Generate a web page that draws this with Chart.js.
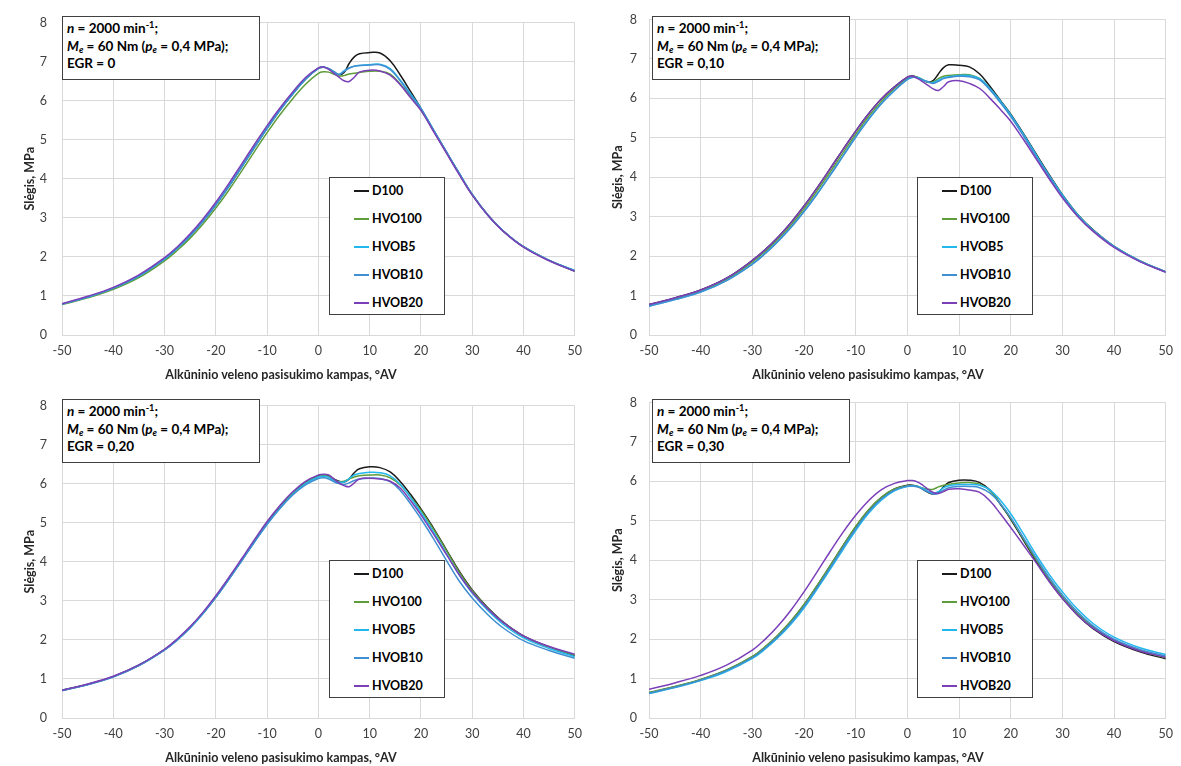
<!DOCTYPE html>
<html><head><meta charset="utf-8">
<script src="https://cdn.jsdelivr.net/npm/chart.js@4.4.1/dist/chart.umd.min.js"></script>
<style>
html,body{margin:0;padding:0;background:#fff;}
body{width:1181px;height:766px;position:relative;overflow:hidden;font-family:Lato,"Liberation Sans",sans-serif;}
.panel{position:absolute;}
.panel canvas{position:absolute;left:0;top:0;}
.note{position:absolute;left:62px;top:16px;width:188px;height:57px;border:1.5px solid #404040;background:#fff;
 font-weight:bold;font-size:13.5px;line-height:17.5px;padding:3px 4px 2px 4px;color:#000;white-space:nowrap;}
.note sup,.note sub{font-size:0.68em;line-height:0;}
.note sub{vertical-align:-0.25em;}
.leg{position:absolute;top:177px;width:114px;height:136px;border:1.5px solid #404040;background:#fff;}
.leg .it{position:absolute;left:24px;height:16px;font-weight:bold;font-size:12.5px;line-height:16px;color:#000;white-space:nowrap;}
.leg .ln{position:absolute;left:0;top:7px;width:15px;height:2px;}
.leg .tx{position:absolute;left:18px;top:0;}
.xt{position:absolute;top:367px;width:300px;text-align:center;font-weight:bold;font-size:12.5px;line-height:16px;color:#262626;white-space:nowrap;}
</style>
</head><body>
<script>
// crank angle, °AV
const ANGLE = [-50,-45,-40,-35,-30,-27.5,-25,-22.5,-20,-17.5,-15,-12.5,-10,-7.5,-5,-2.5,0,1,2,3,4,5,6,7,8,10,12,14,16,18,20,22.5,25,27.5,30,33,36,40,45,50];
const SERIES = ['D100','HVO100','HVOB5','HVOB10','HVOB20'];
const EGR_LABELS = ['0','0,10','0,20','0,30'];
const X_TICKS = [-50,-40,-30,-20,-10,0,10,20,30,40,50];
const Y_TICKS = [0,1,2,3,4,5,6,7,8];
const X_TITLE = 'Alkūninio veleno pasisukimo kampas, °AV';
const Y_TITLE = 'Slėgis, MPa';

// EGR = 0  (pressure, MPa)
const D100_EGR0   = [.79,.97,1.2,1.51,1.945,2.22,2.54,2.91,3.33,3.795,4.29,4.795,5.29,5.755,6.17,6.55,6.825,6.855,6.82,6.74,6.66,6.72,6.95,7.12,7.2,7.23,7.22,7.02,6.65,6.23,5.8,5.24,4.68,4.13,3.6,3.08,2.67,2.26,1.91,1.64];
const HVO100_EGR0 = [.78,.95,1.17,1.47,1.9,2.17,2.48,2.84,3.25,3.7,4.19,4.69,5.18,5.64,6.05,6.42,6.7,6.74,6.73,6.68,6.63,6.64,6.68,6.7,6.72,6.75,6.75,6.68,6.42,6.1,5.76,5.22,4.67,4.12,3.59,3.08,2.67,2.26,1.91,1.64];
const HVOB5_EGR0  = [.79,.97,1.2,1.51,1.945,2.22,2.54,2.91,3.33,3.795,4.29,4.795,5.29,5.755,6.17,6.55,6.825,6.855,6.82,6.74,6.67,6.76,6.84,6.88,6.9,6.92,6.93,6.82,6.52,6.17,5.8,5.24,4.68,4.13,3.6,3.08,2.67,2.26,1.91,1.65];
const HVOB10_EGR0 = [.79,.97,1.2,1.52,1.955,2.23,2.55,2.92,3.34,3.805,4.3,4.805,5.3,5.765,6.18,6.56,6.83,6.86,6.82,6.74,6.67,6.75,6.83,6.88,6.9,6.91,6.92,6.8,6.5,6.14,5.79,5.23,4.68,4.13,3.6,3.08,2.67,2.26,1.91,1.65];
const HVOB20_EGR0 = [.8,.99,1.22,1.54,1.98,2.26,2.59,2.97,3.4,3.87,4.37,4.87,5.36,5.81,6.22,6.59,6.84,6.86,6.8,6.7,6.6,6.51,6.49,6.6,6.73,6.78,6.76,6.65,6.4,6.07,5.75,5.2,4.65,4.1,3.58,3.07,2.66,2.25,1.9,1.63];
// EGR = 0,10
const D100_EGR10   = [.77,.94,1.14,1.44,1.89,2.165,2.485,2.855,3.27,3.725,4.205,4.695,5.17,5.61,5.99,6.29,6.54,6.57,6.53,6.47,6.41,6.45,6.62,6.78,6.85,6.84,6.8,6.62,6.3,5.95,5.6,5.1,4.57,4.05,3.56,3.05,2.66,2.25,1.88,1.6];
const HVO100_EGR10 = [.75,.92,1.12,1.41,1.85,2.12,2.43,2.79,3.2,3.65,4.12,4.61,5.09,5.54,5.93,6.25,6.51,6.55,6.53,6.47,6.41,6.42,6.5,6.56,6.58,6.6,6.6,6.5,6.24,5.92,5.57,5.07,4.54,4.02,3.54,3.04,2.65,2.25,1.88,1.6];
const HVOB5_EGR10  = [.73,.9,1.09,1.38,1.8,2.07,2.38,2.73,3.13,3.57,4.04,4.53,5.02,5.47,5.87,6.2,6.48,6.54,6.53,6.47,6.42,6.4,6.46,6.52,6.55,6.58,6.58,6.5,6.25,5.93,5.58,5.08,4.55,4.03,3.55,3.04,2.65,2.25,1.88,1.6];
const HVOB10_EGR10 = [.73,.9,1.09,1.38,1.8,2.07,2.38,2.73,3.13,3.57,4.04,4.53,5.02,5.47,5.87,6.2,6.48,6.53,6.52,6.46,6.42,6.38,6.43,6.5,6.53,6.56,6.55,6.47,6.21,5.89,5.54,5.04,4.51,4.0,3.52,3.02,2.64,2.24,1.87,1.6];
const HVOB20_EGR10 = [.77,.94,1.14,1.44,1.89,2.165,2.485,2.855,3.27,3.725,4.205,4.695,5.17,5.61,5.99,6.29,6.54,6.56,6.5,6.42,6.33,6.24,6.2,6.3,6.42,6.45,6.38,6.25,6.0,5.72,5.42,4.95,4.45,3.95,3.48,3.0,2.62,2.22,1.86,1.59];
// EGR = 0,20
const D100_EGR20   = [.71,.86,1.06,1.35,1.75,2.01,2.32,2.685,3.1,3.555,4.035,4.52,4.985,5.395,5.755,6.03,6.205,6.22,6.2,6.12,6.06,6.04,6.12,6.28,6.38,6.43,6.41,6.3,6.05,5.72,5.35,4.85,4.3,3.75,3.28,2.83,2.46,2.1,1.82,1.6];
const HVO100_EGR20 = [.71,.86,1.06,1.35,1.75,2.01,2.32,2.68,3.09,3.545,4.025,4.51,4.975,5.385,5.745,6.02,6.19,6.21,6.19,6.1,6.05,6.06,6.12,6.17,6.2,6.22,6.22,6.15,5.96,5.66,5.32,4.82,4.28,3.73,3.26,2.82,2.45,2.09,1.82,1.61];
const HVOB5_EGR20  = [.71,.86,1.06,1.35,1.75,2.0,2.31,2.675,3.09,3.545,4.02,4.5,4.96,5.37,5.73,6.0,6.17,6.19,6.16,6.08,6.04,6.04,6.13,6.22,6.26,6.29,6.28,6.2,5.98,5.64,5.26,4.75,4.2,3.66,3.2,2.76,2.4,2.05,1.78,1.57];
const HVOB10_EGR20 = [.7,.85,1.05,1.34,1.74,2.0,2.31,2.675,3.09,3.545,4.02,4.5,4.96,5.36,5.71,5.97,6.13,6.15,6.12,6.05,6.0,5.98,6.02,6.08,6.12,6.14,6.13,6.05,5.82,5.48,5.1,4.58,4.03,3.5,3.07,2.65,2.31,1.98,1.73,1.53];
const HVOB20_EGR20 = [.71,.87,1.07,1.36,1.76,2.03,2.34,2.71,3.13,3.59,4.07,4.56,5.03,5.44,5.79,6.06,6.22,6.24,6.22,6.12,6.02,5.95,5.92,6.02,6.12,6.14,6.12,6.06,5.88,5.56,5.2,4.7,4.18,3.66,3.22,2.8,2.45,2.1,1.83,1.63];
// EGR = 0,30
const D100_EGR30   = [.64,.79,.97,1.21,1.55,1.8,2.1,2.455,2.87,3.345,3.845,4.355,4.845,5.27,5.595,5.81,5.9,5.9,5.87,5.8,5.72,5.68,5.72,5.86,5.97,6.03,6.03,5.97,5.78,5.42,5.04,4.5,3.96,3.47,3.04,2.6,2.26,1.94,1.68,1.5];
const HVO100_EGR30 = [.65,.8,.98,1.22,1.56,1.81,2.11,2.465,2.88,3.355,3.855,4.365,4.855,5.28,5.6,5.81,5.89,5.89,5.87,5.83,5.8,5.8,5.86,5.9,5.93,5.96,5.97,5.93,5.76,5.43,5.06,4.53,4.0,3.51,3.08,2.64,2.3,1.97,1.71,1.53];
const HVOB5_EGR30  = [.62,.77,.95,1.18,1.51,1.75,2.04,2.385,2.79,3.26,3.755,4.26,4.755,5.19,5.53,5.76,5.87,5.88,5.87,5.82,5.75,5.7,5.74,5.84,5.89,5.92,5.92,5.9,5.78,5.52,5.18,4.66,4.12,3.63,3.2,2.75,2.39,2.05,1.78,1.61];
const HVOB10_EGR30 = [.63,.78,.96,1.2,1.53,1.78,2.07,2.42,2.83,3.3,3.8,4.31,4.8,5.23,5.56,5.78,5.88,5.88,5.86,5.8,5.73,5.68,5.7,5.78,5.84,5.87,5.87,5.84,5.7,5.43,5.08,4.56,4.04,3.55,3.12,2.68,2.33,2.0,1.74,1.57];
const HVOB20_EGR30 = [.73,.89,1.08,1.34,1.72,2.0,2.34,2.74,3.2,3.7,4.21,4.7,5.14,5.51,5.79,5.95,6.02,6.02,5.98,5.9,5.8,5.72,5.69,5.74,5.8,5.81,5.78,5.72,5.5,5.18,4.83,4.38,3.92,3.45,3.03,2.6,2.27,1.96,1.7,1.54];

const PANEL_DATA = [
  [D100_EGR0, HVO100_EGR0, HVOB5_EGR0, HVOB10_EGR0, HVOB20_EGR0],
  [D100_EGR10, HVO100_EGR10, HVOB5_EGR10, HVOB10_EGR10, HVOB20_EGR10],
  [D100_EGR20, HVO100_EGR20, HVOB5_EGR20, HVOB10_EGR20, HVOB20_EGR20],
  [D100_EGR30, HVO100_EGR30, HVOB5_EGR30, HVOB10_EGR30, HVOB20_EGR30]
];
const COLORS = ['#1a1a1a','#5f9c3c','#22b8ee','#3f8fd2','#7b3fb8'];

const LAYOUT = [
  {left:0,   top:0,   w:590, h:383, yw:62, pr:12, tp:15, tt:22, legLeft:329, xtc:281},
  {left:590, top:0,   w:591, h:383, yw:59, pr:13, tp:12, tt:20, legLeft:327, xtc:278},
  {left:0,   top:383, w:590, h:383, yw:62, pr:12, tp:15, tt:22, legLeft:329, xtc:281},
  {left:590, top:383, w:591, h:383, yw:59, pr:13, tp:12, tt:20, legLeft:327, xtc:278}
];

Chart.defaults.font.family = 'Lato, "Liberation Sans", sans-serif';
Chart.defaults.animation = false;

LAYOUT.forEach((L, p) => {
  const div = document.createElement('div');
  div.className = 'panel';
  div.style.cssText = `left:${L.left}px;top:${L.top}px;width:${L.w}px;height:${L.h}px;`;
  const cv = document.createElement('canvas');
  cv.width = L.w; cv.height = L.h;
  cv.style.width = L.w + 'px'; cv.style.height = L.h + 'px';
  div.appendChild(cv);

  const note = document.createElement('div');
  note.className = 'note';
  note.innerHTML = '<i>n</i> = 2000 min<sup>-1</sup>;<br><i>M<sub>e</sub></i> = 60 Nm (<i>p<sub>e</sub></i> = 0,4 MPa);<br>EGR = ' + EGR_LABELS[p];
  div.appendChild(note);

  const leg = document.createElement('div');
  leg.className = 'leg';
  leg.style.left = L.legLeft + 'px';
  SERIES.forEach((s, i) => {
    const it = document.createElement('div');
    it.className = 'it';
    it.style.top = (5 + i * 28) + 'px';
    it.innerHTML = `<div class="ln" style="background:${COLORS[i]}"></div><div class="tx">${s}</div>`;
    leg.appendChild(it);
  });
  div.appendChild(leg);

  const xt = document.createElement('div');
  xt.className = 'xt';
  xt.style.left = (L.xtc - 150) + 'px';
  xt.textContent = X_TITLE;
  div.appendChild(xt);
  document.body.appendChild(div);

  const datasets = SERIES.map((s, i) => ({
    label: s,
    data: ANGLE.map((a, k) => ({x: a, y: PANEL_DATA[p][i][k]})),
    borderColor: COLORS[i],
    backgroundColor: COLORS[i],
    borderWidth: 1.5,
    pointRadius: 0,
    fill: false,
    tension: 0.4,
    order: SERIES.length - i
  }));

  new Chart(cv, {
    type: 'line',
    data: {datasets},
    options: {
      responsive: false,
      animation: false,
      events: [],
      layout: {padding: {left: 0, right: L.pr, top: 15, bottom: 0}},
      plugins: {legend: {display: false}, tooltip: {enabled: false}},
      scales: {
        x: {
          type: 'linear', min: -50, max: 50,
          afterBuildTicks: s => { s.ticks = X_TICKS.map(v => ({value: v})); },
          afterFit: s => { s.height = 48; },
          grid: {color: '#d9d9d9', lineWidth: 1, drawTicks: false},
          border: {color: '#d9d9d9'},
          ticks: {color: '#404040', font: {size: 12.5}, padding: 8, maxRotation: 0},
          title: {display: false}
        },
        y: {
          min: 0, max: 8,
          afterBuildTicks: s => { s.ticks = Y_TICKS.map(v => ({value: v})); },
          afterFit: s => { s.width = L.yw; },
          grid: {color: '#d9d9d9', lineWidth: 1, drawTicks: false},
          border: {display: false},
          ticks: {color: '#404040', font: {size: 12.5}, padding: L.tp},
          title: {display: true, text: Y_TITLE, color: '#262626',
                  font: {size: 12.5, weight: 'bold'}, padding: {top: L.tt, bottom: 0}}
        }
      }
    }
  });
});
</script>
</body></html>
